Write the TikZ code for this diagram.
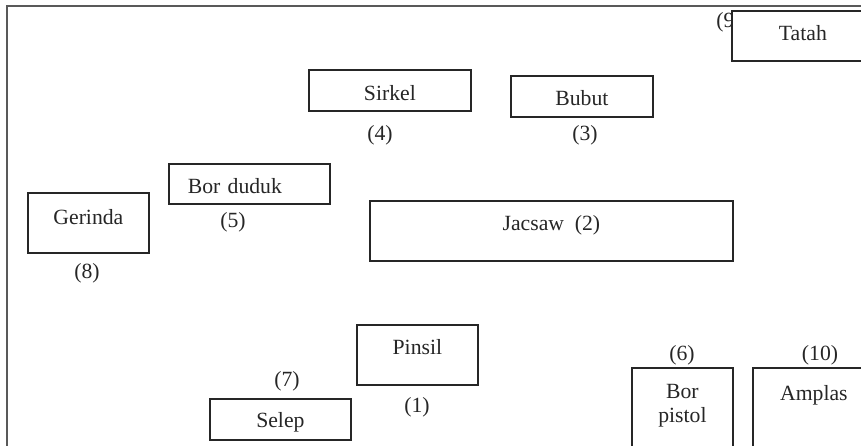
\documentclass[tikz,border=0pt]{standalone}
\usepackage{fontspec}
\setmainfont{Liberation Serif}
\usepackage{tikz}
\tikzset{tool/.style={draw=black!85, line width=1.8pt, fill=white, inner sep=0pt,
    anchor=north west, text=black!85, font=\fontsize{21.7}{24}\selectfont}}
\tikzset{num/.style={anchor=base, inner sep=0pt, text=black!85,
    font=\fontsize{21.7}{24}\selectfont}}

\begin{document}
\begin{tikzpicture}[x=1pt,y=-1pt]
\useasboundingbox (0,0) rectangle (861,446);
\clip (0,0) rectangle (861,446);
\draw[line width=2pt, black!65] (7,470) -- (7,6) -- (890,6);

% (9) sits partly under the Tatah box
\node[num] (n9) at (729,28) {(9)};
\node[tool, minimum width=142pt, text height=30pt, text depth=20pt] (tatah) at (731,10) {Tatah};

\node[tool, minimum width=162pt, text height=31pt, text depth=10pt] (sirkel) at (308,69) {Sirkel};
\node[tool, minimum width=142pt, text height=30pt, text depth=11pt] (bubut) at (510,75) {Bubut};
\node[num] (n4) at (380,141) {(4)};
\node[num] (n3) at (585,141) {(3)};

\node[tool, text width=123pt, align=left, inner xsep=19pt, text height=30pt, text depth=10pt] (borduduk) at (168,163) {Bor duduk};
\node[num] (n5) at (233,228) {(5)};
\node[tool, minimum width=121pt, text height=32pt, text depth=28pt] (gerinda) at (27,192) {Gerinda};
\node[num] (n8) at (87,278) {(8)};
\node[tool, minimum width=363pt, text height=30pt, text depth=30pt] (jacsaw) at (369,200) {Jacsaw\ \ (2)};

\node[tool, minimum width=121pt, text height=30pt, text depth=30pt] (pinsil) at (356,324) {Pinsil};
\node[num] (n1) at (417,412) {(1)};
\node[num] (n7) at (287,386) {(7)};
\node[tool, minimum width=141pt, text height=29pt, text depth=12pt] (selep) at (209,398) {Selep};

\node[num] (n6) at (682,360) {(6)};
\node[num] (n10) at (820,360) {(10)};
\node[tool, minimum width=101pt, text height=31pt, text depth=110pt] (borpistol) at (631,367)
    {\begin{tabular}[t]{@{}c@{}}Bor\\pistol\end{tabular}};
\node[tool, minimum width=122pt, text height=33pt, text depth=100pt] (amplas) at (752,367) {Amplas};
\end{tikzpicture}
\end{document}
